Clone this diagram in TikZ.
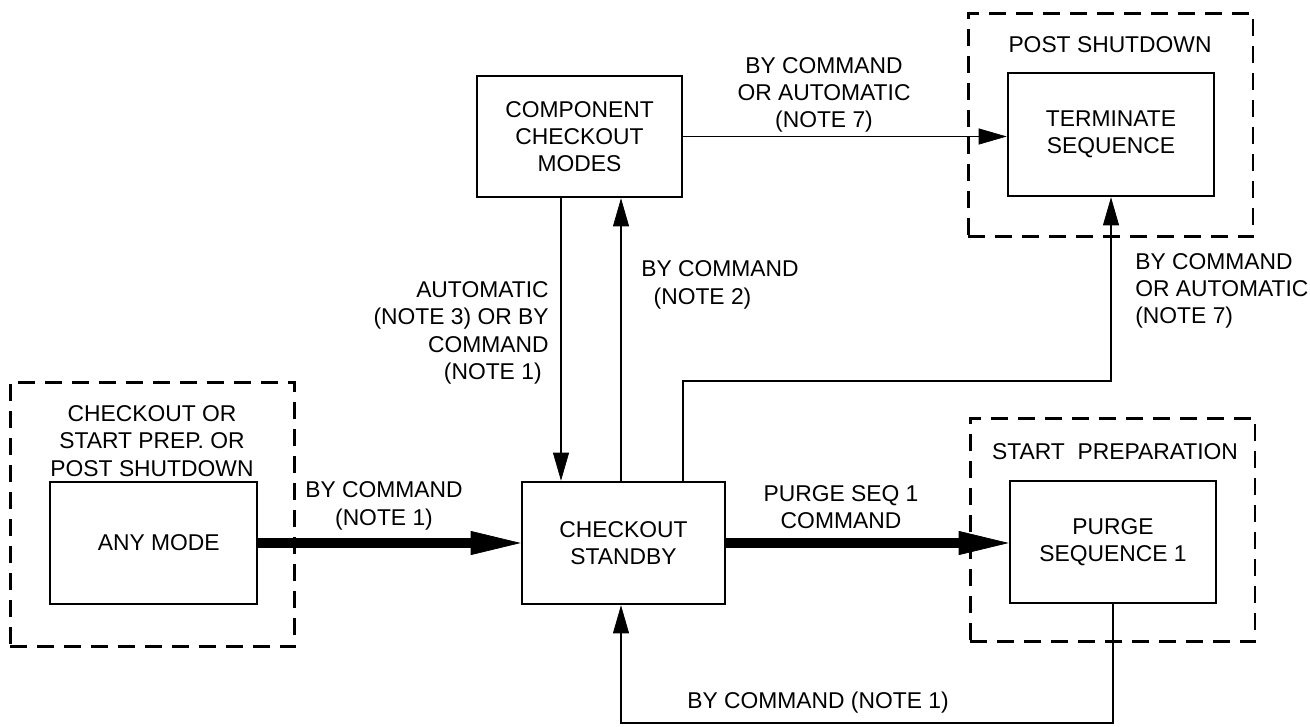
\documentclass[tikz,border=0pt]{standalone}
\usepackage{fontspec}
\setmainfont{Liberation Sans}
\usetikzlibrary{arrows.meta}
\begin{document}
\begin{tikzpicture}[x=0.02cm,y=-0.02cm,
  txt/.style={font=\fontsize{13}{15.5}\selectfont, inner sep=0pt},
  box/.style={draw, line width=1.5pt, align=center, txt},
  group/.style={draw, line width=1.7pt, dash pattern=on 0.34cm off 0.2cm, inner sep=0pt},
  link/.style={line width=1.1pt, -{Triangle[length=0.56cm,width=0.32cm,line width=0.4pt]}},
  heavy/.style={line width=0.2cm, -{Triangle[length=1cm,width=0.48cm,line width=0.4pt]}}]
\useasboundingbox[fill=white] (0,0) rectangle (1310,726);

% mode groups (dashed frames)
\node[group, minimum width=5.7cm, minimum height=5.3cm] (gleft) at (152.5,514.5) {};
\node[group, minimum width=5.7cm, minimum height=4.48cm] (gpost) at (1110.5,125) {};
\node[group, minimum width=5.7cm, minimum height=4.48cm] (gprep) at (1112.5,530) {};

\node[txt, align=center] (tleft) at (152,441) {CHECKOUT OR\\START PREP. OR\\POST SHUTDOWN};
\node[txt] (tpost) at (1110,45) {POST SHUTDOWN};
\node[txt] (tprep) at (1115,452) {START\ \ PREPARATION};

% mode boxes
\node[box, minimum width=4.14cm, minimum height=2.44cm] (anymode) at (153.5,543) {\hspace*{6pt}ANY MODE};
\node[box, minimum width=4.06cm, minimum height=2.44cm] (standby) at (623.5,543) {CHECKOUT\\STANDBY};
\node[box, minimum width=4.1cm, minimum height=2.42cm] (comp) at (579.5,136.5) {COMPONENT\\CHECKOUT\\MODES};
\node[box, minimum width=4.12cm, minimum height=2.46cm] (term) at (1111,134.5) {TERMINATE\\SEQUENCE};
\node[box, minimum width=4.12cm, minimum height=2.44cm] (purge) at (1113,542) {PURGE\\SEQUENCE 1};

% route helpers
\coordinate (xa) at (561,0);
\coordinate (xb) at (621,0);
\coordinate (bend) at (683,381);
\coordinate (low) at (621,723);

% transitions
\draw[heavy] (anymode.east) -- (standby.west |- anymode.east);
\draw[heavy] (standby.east) -- (purge.west |- standby.east);
\draw[link] (comp.south -| xa) -- (standby.north -| xa);
\draw[link] (standby.north -| xb) -- (comp.south -| xb);
\draw[link] (comp.east) -- (term.west |- comp.east);
\draw[link] (standby.north -| bend) -- (bend) -| (term.south);
\draw[link] (purge.south) |- (low) -- (standby.south -| low);

% transition labels
\node[txt, align=center] (l1) at (384,506) {BY COMMAND\\(NOTE 1)};
\node[txt, align=center] (l2) at (841,507) {PURGE SEQ 1\\COMMAND};
\node[txt, align=center] (l3) at (824,95) {BY COMMAND\\OR AUTOMATIC\\(NOTE 7)};
\node[txt, align=left, anchor=west] (l4) at (641,285) {BY COMMAND\\\hspace*{7pt}(NOTE 2)};
\node[txt, align=right, anchor=east] (l5) at (549,333) {AUTOMATIC\\(NOTE 3) OR BY\\COMMAND\\(NOTE 1)\hspace*{4pt}};
\node[txt, align=left, anchor=west] (l6) at (1135,291) {BY COMMAND\\OR AUTOMATIC\\(NOTE 7)};
\node[txt] (l7) at (818,703) {BY COMMAND (NOTE 1)};
\end{tikzpicture}
\end{document}
